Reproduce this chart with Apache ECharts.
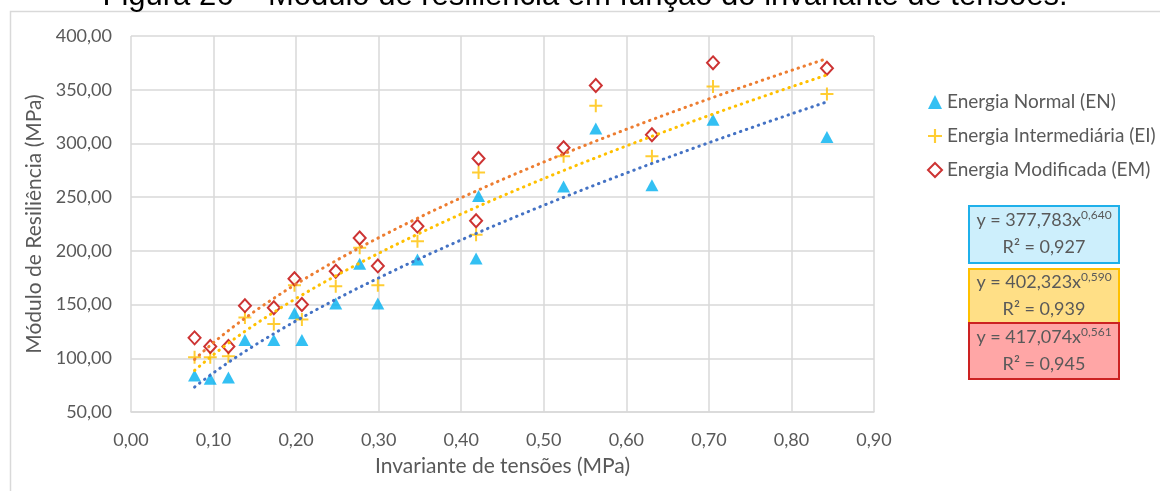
<!DOCTYPE html>
<html>
<head>
<meta charset="utf-8">
<script src="https://cdn.jsdelivr.net/npm/echarts@6/dist/echarts.min.js"></script>
<style>
  html, body { margin: 0; padding: 0; background: #fff; }
  #chart { width: 1160px; height: 491px; }
</style>
</head>
<body>
<div id="chart"></div>
<script>
// Invariante de tensões (MPa), shared by the three compaction energies
const invariante = [0.077, 0.096, 0.118, 0.138, 0.173, 0.198, 0.207, 0.248, 0.277, 0.299,
                    0.347, 0.418, 0.421, 0.524, 0.563, 0.631, 0.705, 0.843];
// Módulo de resiliência (MPa)
const energiaNormal = [84, 81, 82, 117, 117, 142, 117, 151, 188, 151, 192, 193, 251, 260, 314, 261, 322, 306];
const energiaIntermediaria = [101, 101, 102, 138, 132, 168, 136, 167, 203, 168, 209, 215, 273, 288, 335, 288, 353, 346];
const energiaModificada = [119, 111, 111, 149, 147, 174, 150, 181, 212, 186, 223, 228, 286, 296, 354, 308, 375, 370];

const seriesNames = ['Energia Normal (EN)', 'Energia Intermediária (EI)', 'Energia Modificada (EM)'];
// Power-law fits y = a·x^b
const coefA = [377.783, 402.323, 417.074];
const coefB = [0.640, 0.590, 0.561];
const coefR2 = [0.927, 0.939, 0.945];

const xTicks = { min: 0, max: 0.9, step: 0.1 };
const yTicks = { min: 50, max: 400, step: 50 };

const labelColor = '#595959';
const fontFam = 'Lato, "Open Sans", sans-serif';
const comma = (v, d) => v.toFixed(d).replace('.', ',');

// Trendline curve for a fit, over the range of the measured invariants
function trend(a, b) {
  const lo = Math.min(...invariante), hi = Math.max(...invariante);
  const n = 80, pts = [];
  for (let i = 0; i <= n; i++) {
    const x = lo + (hi - lo) * i / n;
    pts.push([x, a * Math.pow(x, b)]);
  }
  return pts;
}

const pair = ys => invariante.map((x, i) => [x, ys[i]]);

const plusPath = 'path://M5.5,0H7.5V5.5H13V7.5H7.5V13H5.5V7.5H0V5.5H5.5Z';
const trendColors = ['#4472c4', '#ffc000', '#ed7d31'];
const boxStyles = [
  { fill: '#cdeffc', stroke: '#1fb0ea', top: 205, h: 57 },
  { fill: '#ffdf86', stroke: '#ffc000', top: 268, h: 54 },
  { fill: '#ffa6a6', stroke: '#cc2222', top: 322, h: 56 }
];

const boxes = boxStyles.map((s, i) => ({
  type: 'group',
  left: 968, top: s.top,
  children: [
    { type: 'rect', shape: { x: 0, y: 0, width: 150, height: s.h },
      style: { fill: s.fill, stroke: s.stroke, lineWidth: 2 } },
    { type: 'text', x: 75, y: s.h / 2 - 14,
      style: {
        text: 'y = ' + comma(coefA[i], 3) + 'x{sup|' + comma(coefB[i], 3) + '}',
        align: 'center', verticalAlign: 'middle',
        fill: labelColor, font: '18px ' + fontFam, lineHeight: 22,
        rich: { sup: { fontSize: 12, fontFamily: fontFam, fill: labelColor,
                       lineHeight: 12, verticalAlign: 'top' } }
      } },
    { type: 'text', x: 75, y: s.h / 2 + 13,
      style: {
        text: 'R² = ' + comma(coefR2[i], 3),
        align: 'center', verticalAlign: 'middle',
        fill: labelColor, font: '18px ' + fontFam
      } }
  ]
}));

const chart = echarts.init(document.getElementById('chart'));
chart.setOption({
  animation: false,
  backgroundColor: '#fff',
  grid: { left: 131, right: 286, top: 36, bottom: 79, containLabel: false },
  xAxis: {
    type: 'value', min: xTicks.min, max: xTicks.max, interval: xTicks.step,
    name: 'Invariante de tensões (MPa)', nameLocation: 'middle', nameGap: 44,
    nameTextStyle: { color: labelColor, fontSize: 21, fontFamily: fontFam },
    axisLine: { show: true, lineStyle: { color: '#d9d9d9', width: 1.5 } },
    axisTick: { show: false },
    axisLabel: { color: labelColor, fontSize: 18, fontFamily: fontFam, margin: 19,
                 formatter: v => comma(v, 2) },
    splitLine: { show: true, lineStyle: { color: '#d9d9d9', width: 1.5 } }
  },
  yAxis: {
    type: 'value', min: yTicks.min, max: yTicks.max, interval: yTicks.step,
    name: 'Módulo de Resiliência (MPa)', nameLocation: 'middle', nameGap: 83,
    nameTextStyle: { color: labelColor, fontSize: 21, fontFamily: fontFam },
    axisLine: { show: false },
    axisTick: { show: false },
    axisLabel: { color: labelColor, fontSize: 18, fontFamily: fontFam, margin: 19,
                 formatter: v => comma(v, 2) },
    splitLine: { show: true, lineStyle: { color: '#d9d9d9', width: 1.5 } }
  },
  legend: {
    data: seriesNames,
    orient: 'vertical', left: 927, top: 92,
    itemWidth: 14, itemHeight: 14, itemGap: 14, padding: 0,
    selectedMode: false,
    textStyle: { color: labelColor, fontSize: 19, fontFamily: fontFam, lineHeight: 20 }
  },
  graphic: [
    { type: 'rect', shape: { x: 10.5, y: 11.5, width: 1300, height: 600 },
      style: { fill: 'none', stroke: '#d9d9d9', lineWidth: 1.5 }, silent: true },
    { type: 'text', x: 585, y: 12,
      style: { text: 'Figura 26 – Módulo de resiliência em função do invariante de tensões.',
               align: 'center', verticalAlign: 'bottom',
               font: '31px "Liberation Sans", Arial, sans-serif', fill: '#000' } }
  ].concat(boxes),
  series: [
    { name: seriesNames[0], type: 'scatter', data: pair(energiaNormal),
      symbol: 'triangle', symbolSize: [13, 12], itemStyle: { color: '#00b0f0' }, z: 3 },
    { name: seriesNames[1], type: 'scatter', data: pair(energiaIntermediaria),
      symbol: plusPath, symbolSize: 13, itemStyle: { color: '#ffc000' }, z: 3 },
    { name: seriesNames[2], type: 'scatter', data: pair(energiaModificada),
      symbol: 'diamond', symbolSize: [12, 13],
      itemStyle: { color: '#ffffff', borderColor: '#c00000', borderWidth: 2 }, z: 3 }
  ].concat(coefA.map((a, i) => ({
    name: 'trend' + i, type: 'line', data: trend(a, coefB[i]),
    showSymbol: false, silent: true, z: 4,
    lineStyle: { color: trendColors[i], width: 3, type: [0.5, 5.8], cap: 'round' }
  })))
});
</script>
</body>
</html>
